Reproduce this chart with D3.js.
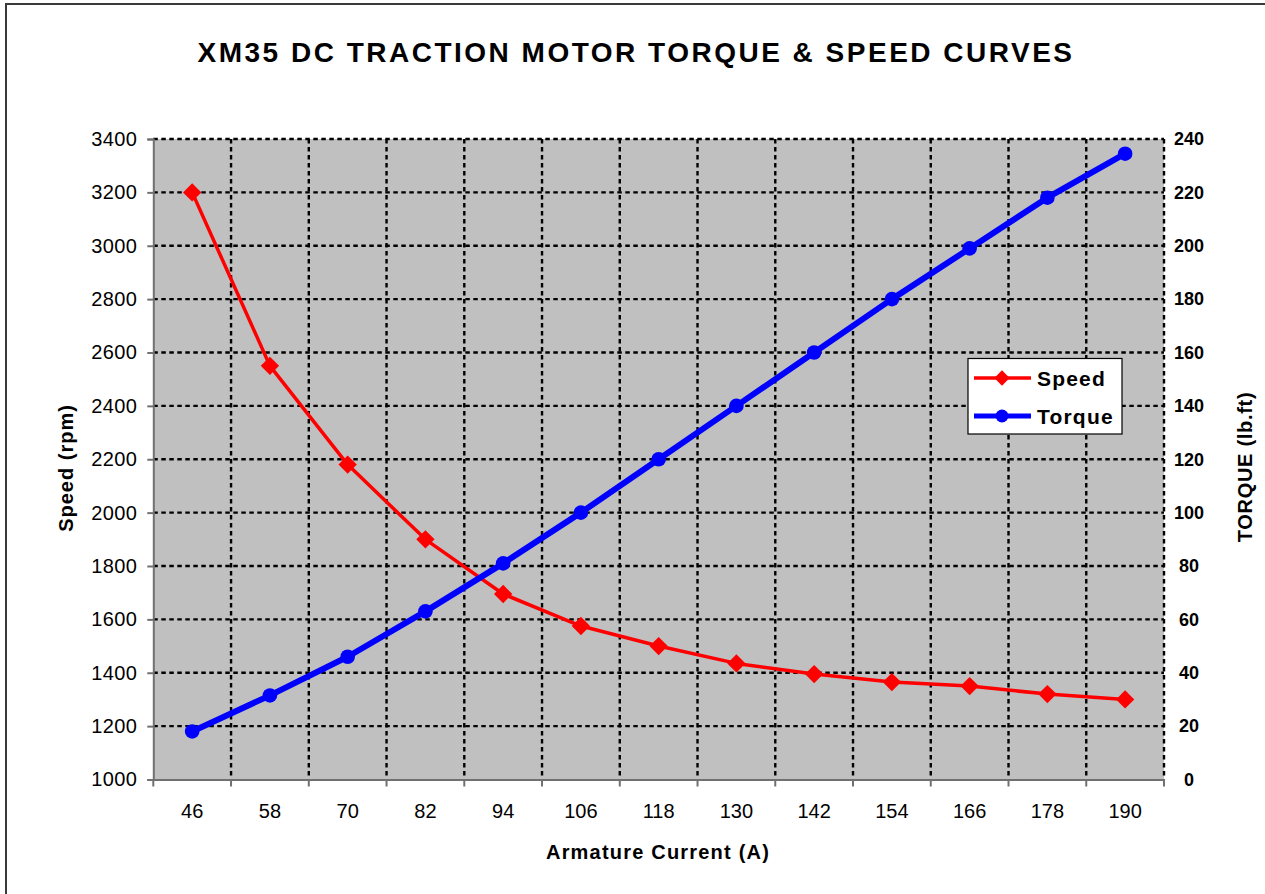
<!DOCTYPE html>
<html>
<head>
<meta charset="utf-8">
<script src="https://cdn.jsdelivr.net/npm/d3@7/dist/d3.min.js"></script>
<style>
  html, body { margin: 0; padding: 0; background: #fff; }
  svg { display: block; }
  text { font-family: "Liberation Sans", Arial, sans-serif; fill: #000; }
</style>
</head>
<body>
<svg id="chart" width="1265" height="894"></svg>
<script>
const title = "XM35 DC TRACTION MOTOR TORQUE & SPEED CURVES";
const xTitle = "Armature Current (A)";
const yLeftTitle = "Speed (rpm)";
const yRightTitle = "TORQUE (lb.ft)";
const currents = [46, 58, 70, 82, 94, 106, 118, 130, 142, 154, 166, 178, 190];
const speed = [3200, 2550, 2180, 1900, 1695, 1575, 1500, 1435, 1395, 1365, 1350, 1320, 1300];
const torque = [18, 31.5, 46, 63, 81, 100, 120, 140, 160, 180, 199, 218, 234.5];
const speedTicks = [1000, 1200, 1400, 1600, 1800, 2000, 2200, 2400, 2600, 2800, 3000, 3200, 3400];
const torqueTicks = [0, 20, 40, 60, 80, 100, 120, 140, 160, 180, 200, 220, 240];
const seriesNames = ["Speed", "Torque"];

const svg = d3.select("#chart");
const L = 153.3, R = 1164, T = 139, B = 779.5;

// outer border
svg.append("rect").attr("x", 6).attr("y", 4).attr("width", 1300).attr("height", 1000)
  .attr("fill", "#fff").attr("stroke", "#3a3a3a").attr("stroke-width", 2);

const x = d3.scaleBand().domain(currents).range([L, R]).padding(0);
const yL = d3.scaleLinear().domain([1000, 3400]).range([B, T]);
const yR = d3.scaleLinear().domain([0, 240]).range([B, T]);

// plot area
svg.append("rect").attr("x", L).attr("y", T).attr("width", R - L).attr("height", B - T)
  .attr("fill", "#C0C0C0");

const boundaries = currents.map(c => x(c)).concat([x(currents[currents.length - 1]) + x.bandwidth()]);

// grid
const grid = svg.append("g").attr("stroke", "#000").attr("stroke-width", 2.4)
  .attr("stroke-dasharray", "4.5,3.5");
grid.selectAll("line.h").data(speedTicks.slice(1)).join("line")
  .attr("x1", L).attr("x2", R).attr("y1", d => yL(d)).attr("y2", d => yL(d));
grid.selectAll("line.v").data(boundaries.slice(1)).join("line")
  .attr("x1", d => d).attr("x2", d => d).attr("y1", T).attr("y2", B);

// left axis
const axL = svg.append("g").attr("transform", `translate(${L},0)`)
  .call(d3.axisLeft(yL).tickValues(speedTicks).tickSize(6).tickPadding(10).tickFormat(d3.format("d")));
axL.select(".domain").attr("stroke", "#707070").attr("stroke-width", 2);
axL.selectAll(".tick line").attr("stroke", "#707070").attr("stroke-width", 2);
axL.selectAll(".tick text").attr("font-size", 20).attr("letter-spacing", 0.4)
  .attr("font-family", "Liberation Sans, Arial, sans-serif").attr("fill", "#000");

// bottom axis (labels at centres, ticks at boundaries)
const axB = svg.append("g").attr("transform", `translate(0,${B})`)
  .call(d3.axisBottom(x).tickSize(0).tickPadding(24));
axB.select(".domain").attr("stroke", "#707070").attr("stroke-width", 2);
axB.selectAll(".tick text").attr("font-size", 20)
  .attr("font-family", "Liberation Sans, Arial, sans-serif").attr("fill", "#000");
svg.append("g").selectAll("line").data(boundaries).join("line")
  .attr("x1", d => d).attr("x2", d => d).attr("y1", B).attr("y2", B + 7)
  .attr("stroke", "#707070").attr("stroke-width", 2);

// right axis labels
const axR = svg.append("g").attr("transform", `translate(${R},0)`)
  .call(d3.axisRight(yR).tickValues(torqueTicks).tickSize(0).tickPadding(25));
axR.select(".domain").remove();
axR.selectAll(".tick text").attr("font-size", 18).attr("font-weight", "bold")
  .attr("text-anchor", "middle")
  .attr("font-family", "Liberation Sans, Arial, sans-serif").attr("fill", "#000");

// series
const speedLine = d3.line().x((d, i) => x(currents[i]) + x.bandwidth() / 2).y(d => yL(d));
const torqueLine = d3.line().x((d, i) => x(currents[i]) + x.bandwidth() / 2).y(d => yR(d));

svg.append("path").datum(speed).attr("d", speedLine)
  .attr("fill", "none").attr("stroke", "#FF0000").attr("stroke-width", 3.5).attr("stroke-linejoin", "round");
const diamond = d3.symbol().type(d3.symbolDiamond2).size(215);
svg.append("g").selectAll("path").data(speed).join("path")
  .attr("d", diamond)
  .attr("transform", (d, i) => `translate(${x(currents[i]) + x.bandwidth() / 2},${yL(d)})`)
  .attr("fill", "#FF0000");

svg.append("path").datum(torque).attr("d", torqueLine)
  .attr("fill", "none").attr("stroke", "#0000FF").attr("stroke-width", 6).attr("stroke-linejoin", "round");
svg.append("g").selectAll("circle").data(torque).join("circle")
  .attr("cx", (d, i) => x(currents[i]) + x.bandwidth() / 2).attr("cy", d => yR(d)).attr("r", 7.3)
  .attr("fill", "#0000FF");

// title
svg.append("text").attr("x", 636).attr("y", 62).attr("text-anchor", "middle")
  .attr("font-size", 28).attr("font-weight", "bold").attr("letter-spacing", 2.5).text(title);

// axis titles
svg.append("text").attr("x", 658).attr("y", 859).attr("text-anchor", "middle")
  .attr("font-size", 20).attr("font-weight", "bold").attr("letter-spacing", 1.2).text(xTitle);
svg.append("text").attr("transform", "translate(73,468) rotate(-90)").attr("text-anchor", "middle")
  .attr("font-size", 20).attr("font-weight", "bold").attr("letter-spacing", 1).text(yLeftTitle);
svg.append("text").attr("transform", "translate(1252,467) rotate(-90)").attr("text-anchor", "middle")
  .attr("font-size", 20).attr("font-weight", "bold").attr("letter-spacing", 0.7).text(yRightTitle);

// legend
const lg = svg.append("g");
lg.append("rect").attr("x", 968).attr("y", 358.5).attr("width", 154).attr("height", 75.5)
  .attr("fill", "#fff").attr("stroke", "#000").attr("stroke-width", 1.2);
const legendRows = [
  { name: seriesNames[0], color: "#FF0000", width: 3.5, marker: "diamond", y: 378 },
  { name: seriesNames[1], color: "#0000FF", width: 5, marker: "circle", y: 416 }
];
const legendDiamond = d3.symbol().type(d3.symbolDiamond2).size(150);
legendRows.forEach(r => {
  lg.append("line").attr("x1", 974).attr("x2", 1031).attr("y1", r.y).attr("y2", r.y)
    .attr("stroke", r.color).attr("stroke-width", r.width);
  if (r.marker === "diamond") {
    lg.append("path").attr("d", legendDiamond).attr("transform", `translate(1002,${r.y})`).attr("fill", r.color);
  } else {
    lg.append("circle").attr("cx", 1002).attr("cy", r.y).attr("r", 6.5).attr("fill", r.color);
  }
  lg.append("text").attr("x", 1037).attr("y", r.y + 7.5).attr("font-size", 21).attr("font-weight", "bold")
    .attr("letter-spacing", 1.2).text(r.name);
});
</script>
</body>
</html>
